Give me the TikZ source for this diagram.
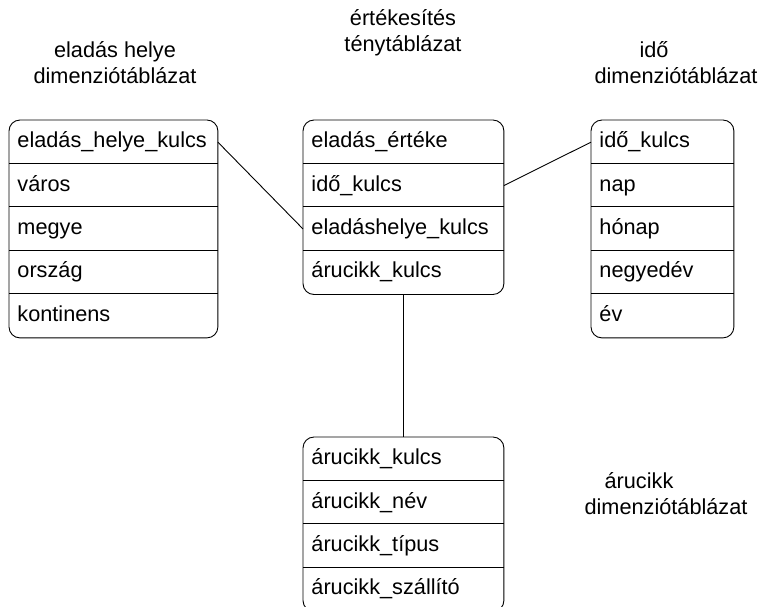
\documentclass[tikz,border=0pt]{standalone}
\usepackage{fontspec}
\setmainfont{Liberation Sans}
\begin{document}
\begin{tikzpicture}[x=1pt,y=-1pt,line width=0.9pt,
  font=\fontsize{21.7}{26}\selectfont,
  cell/.style={anchor=north west,minimum height=43.4,inner xsep=8pt,inner ysep=0pt,
    text width=#1,text height=15.5pt,text depth=4.5pt,align=left},
  frame/.style={draw,rounded corners=11pt},
  sep/.style={draw},
  link/.style={draw},
  caption/.style={align=center,inner sep=0pt}]
\useasboundingbox (0,0) rectangle (761,606);

% eladás helye dimension table
\node[cell=192] (h1) at (9,120)   {eladás\_helye\_kulcs};
\node[cell=192] (h2) at (9,163.4) {város};
\node[cell=192] (h3) at (9,206.8) {megye};
\node[cell=192] (h4) at (9,250.2) {ország};
\node[cell=192] (h5) at (9,293.6) {kontinens};
\draw[frame] (h1.north west) rectangle (h5.south east);
\foreach \r in {h2,h3,h4,h5} \draw[sep] (\r.north west) -- (\r.north east);

% fact table
\node[cell=184] (f1) at (303,120)   {eladás\_értéke};
\node[cell=184] (f2) at (303,163.4) {idő\_kulcs};
\node[cell=184] (f3) at (303,206.8) {eladáshelye\_kulcs};
\node[cell=184] (f4) at (303,250.2) {árucikk\_kulcs};
\draw[frame] (f1.north west) rectangle (f4.south east);
\foreach \r in {f2,f3,f4} \draw[sep] (\r.north west) -- (\r.north east);

% idő dimension table
\node[cell=126] (t1) at (591,120)   {idő\_kulcs};
\node[cell=126] (t2) at (591,163.4) {nap};
\node[cell=126] (t3) at (591,206.8) {hónap};
\node[cell=126] (t4) at (591,250.2) {negyedév};
\node[cell=126] (t5) at (591,293.6) {év};
\draw[frame] (t1.north west) rectangle (t5.south east);
\foreach \r in {t2,t3,t4,t5} \draw[sep] (\r.north west) -- (\r.north east);

% árucikk dimension table
\node[cell=184] (a1) at (303,437)   {árucikk\_kulcs};
\node[cell=184] (a2) at (303,480.4) {árucikk\_név};
\node[cell=184] (a3) at (303,523.8) {árucikk\_típus};
\node[cell=184] (a4) at (303,567.2) {árucikk\_szállító};
\draw[frame] (a1.north west) rectangle (a4.south east);
\foreach \r in {a2,a3,a4} \draw[sep] (\r.north west) -- (\r.north east);

% connectors
\draw[link] (h1.east) -- (f3.west);
\draw[link] (f2.east) -- (t1.west);
\draw[link] (f4.south) -- (a1.north);

% captions
\node[caption] (capf) at (403,33) {értékesítés\\ténytáblázat};
\node[caption] (caph) at (115,63) {eladás helye\\dimenziótáblázat};
\node[caption] (capt1) at (654,50) {idő};
\node[caption] (capt2) at (676,76) {dimenziótáblázat};
\node[caption] (capa1) at (639,481) {árucikk};
\node[caption] (capa2) at (666,507) {dimenziótáblázat};
\end{tikzpicture}
\end{document}
